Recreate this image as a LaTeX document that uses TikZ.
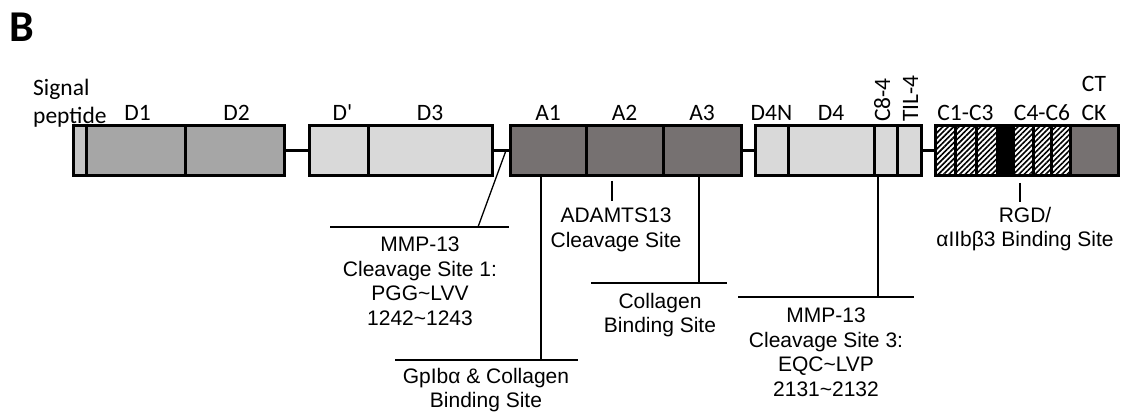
\documentclass[tikz,border=0pt]{standalone}
\usepackage{fontspec}
\setmainfont{Carlito}
\newfontfamily\arialfont{Liberation Sans}
\usetikzlibrary{positioning,patterns.meta}

\definecolor{domgray}{HTML}{A6A6A6}
\definecolor{domlight}{HTML}{D9D9D9}
\definecolor{domdark}{HTML}{767171}

\tikzset{
  dom/.style={draw, line width=3pt, minimum height=50pt, inner sep=0pt, outer sep=0pt},
  hatchdom/.style={dom, preaction={fill=white}, pattern={Lines[angle=45,distance=3.8pt,line width=1.6pt]}},
  lbl/.style={font=\fontsize{23.5}{28}\selectfont, anchor=base, inner sep=0pt},
  site/.style={font=\arialfont\fontsize{21}{24.5}\selectfont, align=center, anchor=north, inner sep=0pt},
  callout/.style={line width=1.3pt},
  tick/.style={line width=2.6pt},
  linker/.style={line width=3pt}
}

\begin{document}
\begin{tikzpicture}[x=1pt, y=-1pt]
    \useasboundingbox (0,0) rectangle (1124,414);
    \coordinate (top) at (0,121);
    \coordinate (ctline) at (0,92);

    % Buchstabe
    \node[font=\fontsize{44}{48}\selectfont\bfseries, anchor=base west, inner sep=0pt] (panel) at (9,42) {B};

    % Linker
    \coordinate (sp) at (79.5,150.5);
    \coordinate (dp) at (338.5,150.5);
    \coordinate (a1) at (548,150.5);
    \coordinate (d4n) at (771.5,150.5);
    \coordinate (c1) at (945,150.5);
    \draw[linker] (sp) -- (c1);

    % Domaenen
    \node[dom, minimum width=13pt, preaction={fill=white}, pattern={Dots[distance=2pt,radius=0.6pt]}] (SP) at (sp) {};
    \node[dom, fill=domgray, minimum width=99pt, right=0pt of SP] (D1) {};
    \node[dom, fill=domgray, minimum width=99pt, right=0pt of D1] (D2) {};

    \node[dom, fill=domlight, minimum width=59pt] (Dp) at (dp) {};
    \node[dom, fill=domlight, minimum width=124pt, right=0pt of Dp] (D3) {};

    \node[dom, fill=domdark, minimum width=76pt] (A1) at (a1) {};
    \node[dom, fill=domdark, minimum width=77pt, right=0pt of A1] (A2) {};
    \node[dom, fill=domdark, minimum width=78pt, right=0pt of A2] (A3) {};

    \node[dom, fill=domlight, minimum width=33pt] (D4N) at (d4n) {};
    \node[dom, fill=domlight, minimum width=86pt, right=0pt of D4N] (D4) {};
    \node[dom, fill=domlight, minimum width=23pt, right=0pt of D4] (C84) {};
    \node[dom, fill=domlight, minimum width=24pt, right=0pt of C84] (TIL4) {};

    \node[hatchdom, minimum width=20pt] (C1) at (c1) {};
    \node[hatchdom, minimum width=21pt, right=0pt of C1] (C2) {};
    \node[hatchdom, minimum width=21pt, right=0pt of C2] (C3) {};
    \node[dom, fill=black, minimum width=16pt, right=0pt of C3] (C34) {};
    \node[hatchdom, minimum width=20pt, right=0pt of C34] (C4) {};
    \node[hatchdom, minimum width=18pt, right=0pt of C4] (C5) {};
    \node[hatchdom, minimum width=19pt, right=0pt of C5] (C6) {};
    \node[dom, fill=domdark, minimum width=48pt, right=0pt of C6] (CK) {};

    % Beschriftung oben
    \node[lbl, align=left, anchor=south west] (sptxt) at (33,127) {Signal\\peptide};
    \node[lbl] at ([xshift=2pt]D1 |- top) {D1};
    \node[lbl] at ([xshift=2pt]D2 |- top) {D2};
    \node[lbl] at ([xshift=4pt]Dp |- top) {D\textquotesingle};
    \node[lbl] at (D3 |- top) {D3};
    \node[lbl] at (A1 |- top) {A1};
    \node[lbl] at (A2 |- top) {A2};
    \node[lbl] at (A3 |- top) {A3};
    \node[lbl] at (D4N |- top) {D4N};
    \node[lbl] at (D4 |- top) {D4};
    \node[lbl, rotate=90, anchor=base west] at (890,122) {C8-4};
    \node[lbl, rotate=90, anchor=base west] at (918,122) {TIL-4};
    \node[lbl] at (C2 |- top) {C1-C3};
    \node[lbl] at (C5 |- top) {C4-C6};
    \node[lbl] at (CK |- ctline) {CT};
    \node[lbl] at (CK |- top) {CK};

    % MMP-13 Schnittstelle 1
    \coordinate (mmp1) at (478,227);
    \draw[callout] ([xshift=14pt]D3.east) -- (mmp1);
    \draw[callout] ([xshift=-148pt]mmp1) -- ([xshift=31pt]mmp1);
    \node[site] (mmp1txt) at (420,237) {MMP-13\\Cleavage Site 1:\\PGG\textasciitilde LVV\\1242\textasciitilde 1243};

    % GpIb alpha
    \coordinate (gp) at (541,360);
    \draw[callout] (A1.south -| gp) -- (gp);
    \draw[callout] ([xshift=-146pt]gp) -- ([xshift=37pt]gp);
    \node[site] (gptxt) at (486,368) {GpIbα \& Collagen\\Binding Site};

    % ADAMTS13
    \coordinate (adamtop) at (612,181);
    \coordinate (adam) at (612,201);
    \draw[tick] (adamtop) -- (adam);
    \node[site] (adamtxt) at (616,208) {ADAMTS13\\Cleavage Site};

    % Kollagen
    \coordinate (col) at (699,283);
    \draw[callout] (A3.south -| col) -- (col);
    \draw[callout] ([xshift=-108pt]col) -- ([xshift=28pt]col);
    \node[site] (coltxt) at (660,293) {Collagen\\Binding Site};

    % MMP-13 Schnittstelle 3
    \coordinate (mmp3) at (878,297);
    \draw[callout] (C84.south -| mmp3) -- (mmp3);
    \draw[callout] ([xshift=-140pt]mmp3) -- ([xshift=36pt]mmp3);
    \node[site] (mmp3txt) at (826,308) {MMP-13\\Cleavage Site 3:\\EQC\textasciitilde LVP\\2131\textasciitilde 2132};

    % RGD
    \coordinate (rgdtop) at (1020,183);
    \coordinate (rgd) at (1020,202);
    \draw[tick] (rgdtop) -- (rgd);
    \node[site] (rgdtxt) at (1025,207) {RGD/\\αIIbβ3 Binding Site};
\end{tikzpicture}
\end{document}
